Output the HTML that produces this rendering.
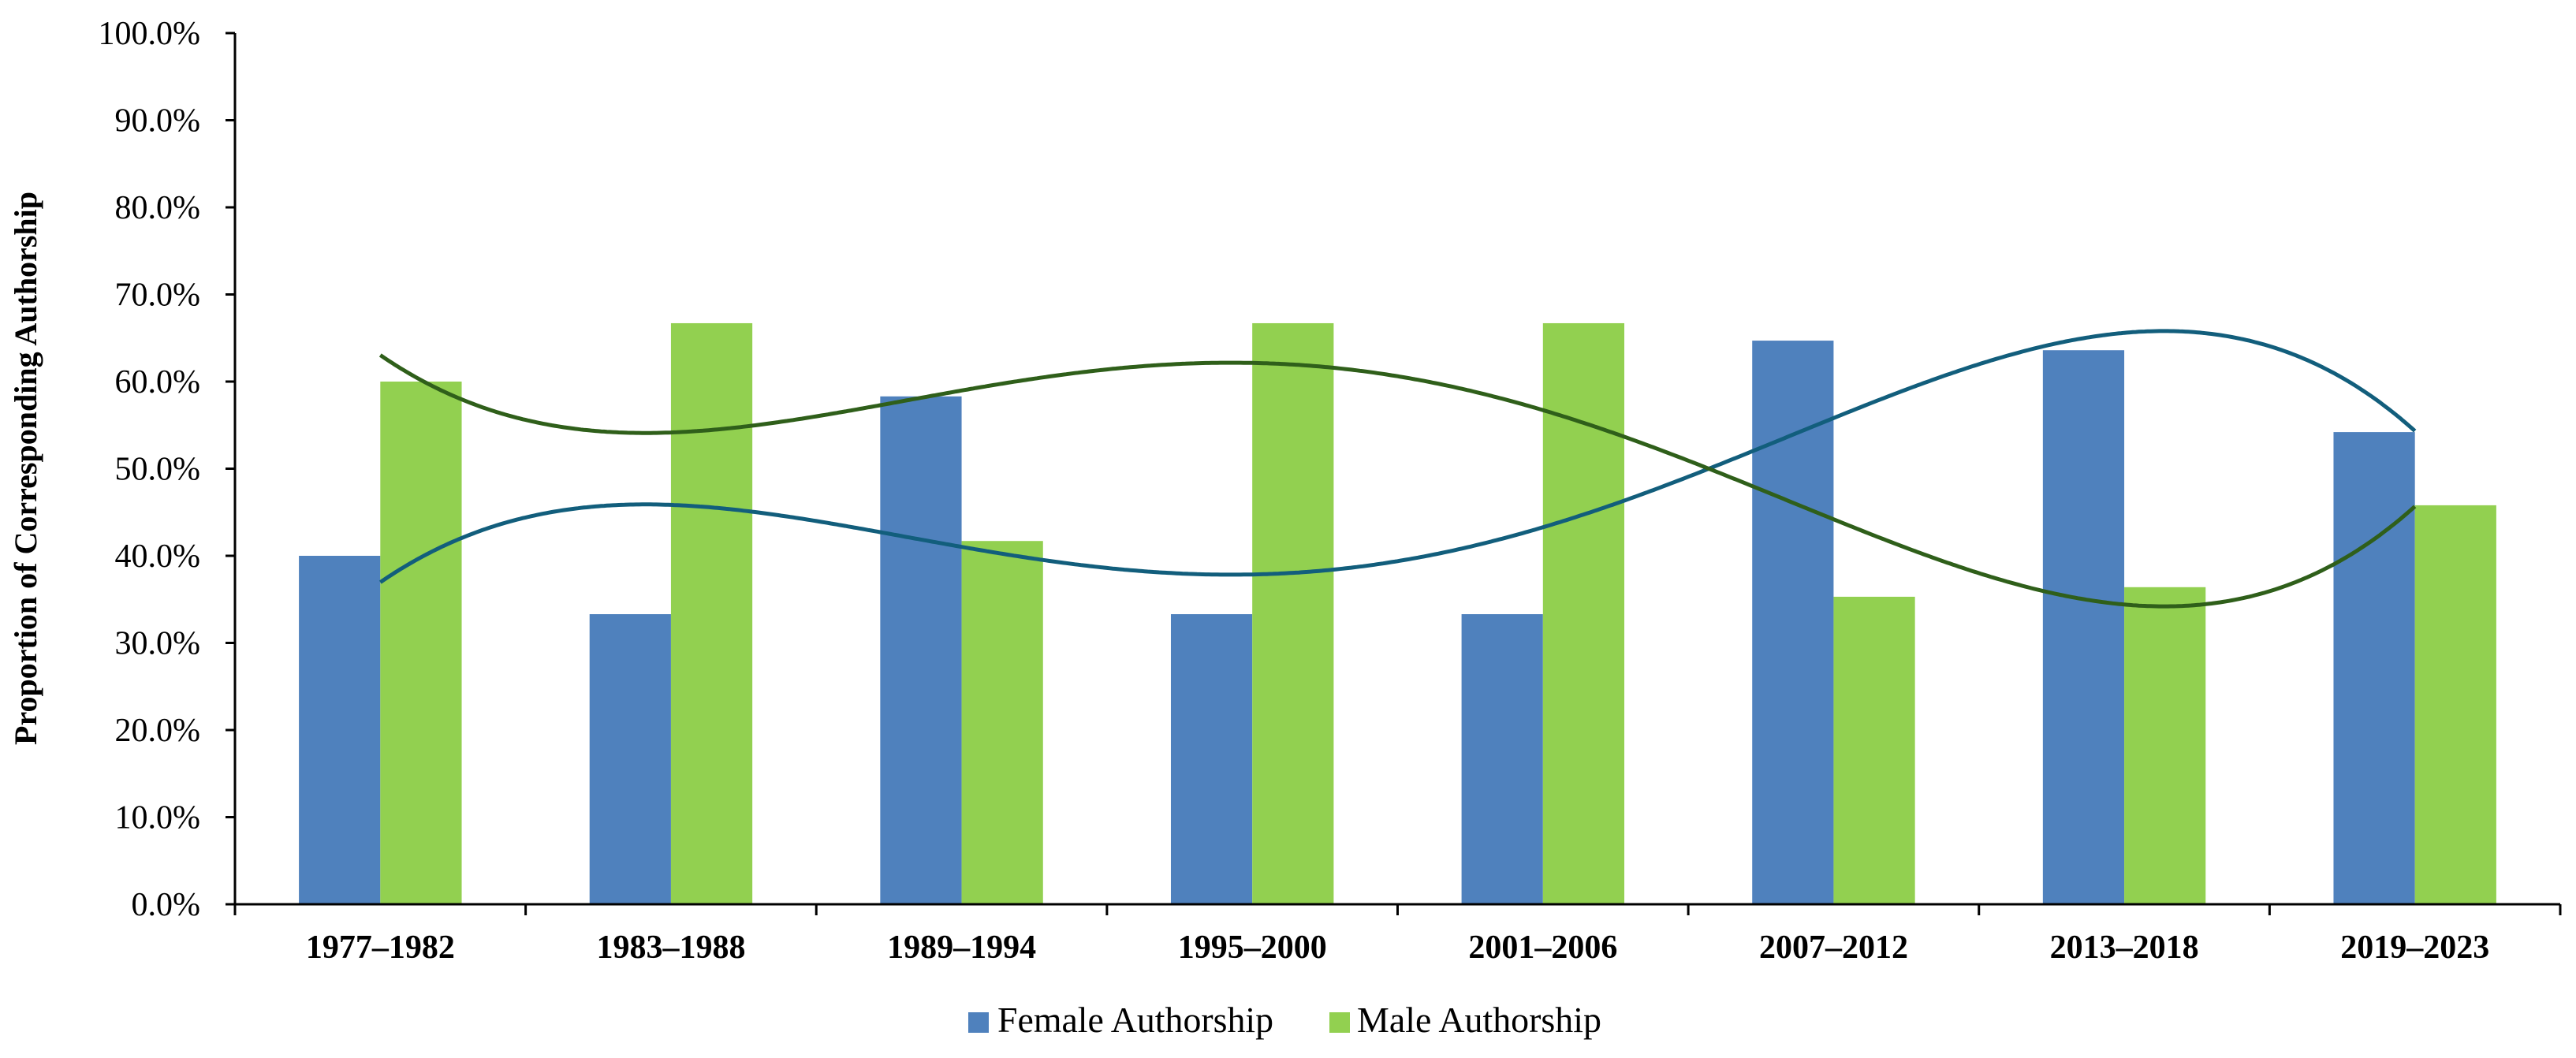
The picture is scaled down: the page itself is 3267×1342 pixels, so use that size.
<!DOCTYPE html>
<html><head><meta charset="utf-8"><style>
html,body{margin:0;padding:0;background:#fff;}
svg{display:block;}
text{font-family:"Liberation Serif",serif;fill:#000;}
</style></head><body>
<svg id="chart" width="3267" height="1342" xmlns="http://www.w3.org/2000/svg"></svg>
<script>
const categories = ["1977–1982","1983–1988","1989–1994","1995–2000","2001–2006","2007–2012","2013–2018","2019–2023"];
const femaleValues = [40.0,33.3,58.3,33.3,33.3,64.7,63.6,54.2];
const maleValues = [60.0,66.7,41.7,66.7,66.7,35.3,36.4,45.8];
const yTicks = [0,10,20,30,40,50,60,70,80,90,100];
const yTickLabels = ["0.0%","10.0%","20.0%","30.0%","40.0%","50.0%","60.0%","70.0%","80.0%","90.0%","100.0%"];

const svg = document.getElementById('chart');
const NS = "http://www.w3.org/2000/svg";
const X0 = 298, X1 = 3247, Y0 = 1147, Y100 = 42;
const catW = (X1 - X0) / categories.length;
const barW = catW * 0.28;
function y(v){ return Y0 - (Y0 - Y100) * v / 100; }
function xc(i){ return X0 + catW * (i + 0.5); }
function mk(tag, attrs){ const e = document.createElementNS(NS, tag); for (const k in attrs) e.setAttribute(k, attrs[k]); svg.appendChild(e); return e; }

// bars
categories.forEach((c, i) => {
  const b = mk('rect', {x: xc(i) - barW, y: y(femaleValues[i]), width: barW, height: Y0 - y(femaleValues[i]), fill: '#4F81BD'});
  
  
  const g = mk('rect', {x: xc(i), y: y(maleValues[i]), width: barW, height: Y0 - y(maleValues[i]), fill: '#92D050'});
  
  
});

// polynomial trend (degree 4 least squares)
function polyfit(vals, deg){
  const n = deg + 1;
  const A = Array.from({length:n}, () => new Array(n + 1).fill(0));
  vals.forEach((v, i) => {
    for (let r = 0; r < n; r++){
      for (let c = 0; c < n; c++) A[r][c] += Math.pow(i, r + c);
      A[r][n] += v * Math.pow(i, r);
    }
  });
  for (let p = 0; p < n; p++){
    let m = p; for (let r = p + 1; r < n; r++) if (Math.abs(A[r][p]) > Math.abs(A[m][p])) m = r;
    [A[p], A[m]] = [A[m], A[p]];
    for (let r = 0; r < n; r++){ if (r === p) continue; const f = A[r][p] / A[p][p]; for (let c = p; c <= n; c++) A[r][c] -= f * A[p][c]; }
  }
  return A.map((row, i) => row[n] / row[i]);
}
function trendPath(vals){
  const co = polyfit(vals, 4);
  let d = '';
  for (let t = 0; t <= 700; t++){
    const xi = t / 100;
    let v = 0; co.forEach((c, k) => v += c * Math.pow(xi, k));
    d += (t ? 'L' : 'M') + (X0 + catW * (xi + 0.5)).toFixed(1) + ',' + y(v).toFixed(1);
  }
  return d;
}
const tf = mk('path', {d: trendPath(femaleValues), fill: 'none', stroke: '#125E7C', 'stroke-width': 5});


const tm = mk('path', {d: trendPath(maleValues), fill: 'none', stroke: '#2F5F1A', 'stroke-width': 5});



// axes
const ya = mk('line', {x1: X0, y1: Y100, x2: X0, y2: Y0 + 12, stroke: '#000', 'stroke-width': 3});


const xa = mk('line', {x1: X0 - 12, y1: Y0, x2: X1, y2: Y0, stroke: '#000', 'stroke-width': 3});


yTicks.forEach((t, i) => {
  const tk = mk('line', {x1: X0 - 12, y1: y(t), x2: X0, y2: y(t), stroke: '#000', 'stroke-width': 3});
  
  
  const lb = mk('text', {x: 254, y: y(t) + 14, 'text-anchor': 'end', 'font-size': 42});
  lb.textContent = yTickLabels[i];
  
  
});
for (let i = 0; i <= categories.length; i++){
  const tk = mk('line', {x1: X0 + catW * i, y1: Y0, x2: X0 + catW * i, y2: Y0 + 14, stroke: '#000', 'stroke-width': 3});
  
  
}
categories.forEach((c, i) => {
  const lb = mk('text', {x: xc(i), y: 1215, 'text-anchor': 'middle', 'font-size': 42, 'font-weight': 'bold'});
  lb.textContent = c;
  
  
});

// y title
const yt = mk('text', {x: 0, y: 0, 'text-anchor': 'middle', 'font-size': 40, 'font-weight': 'bold', transform: 'translate(46,594) rotate(-90)'});
yt.textContent = 'Proportion of Corresponding Authorship';



// legend
const l1 = mk('rect', {x: 1228, y: 1284, width: 26, height: 26, fill: '#4F81BD'});


const t1 = mk('text', {x: 1265, y: 1309, 'font-size': 46, textLength: 350, lengthAdjust: 'spacingAndGlyphs'});
t1.textContent = 'Female Authorship';


const l2 = mk('rect', {x: 1686, y: 1284, width: 26, height: 26, fill: '#92D050'});


const t2 = mk('text', {x: 1721, y: 1309, 'font-size': 46, textLength: 310, lengthAdjust: 'spacingAndGlyphs'});
t2.textContent = 'Male Authorship';


</script>
</body></html>
